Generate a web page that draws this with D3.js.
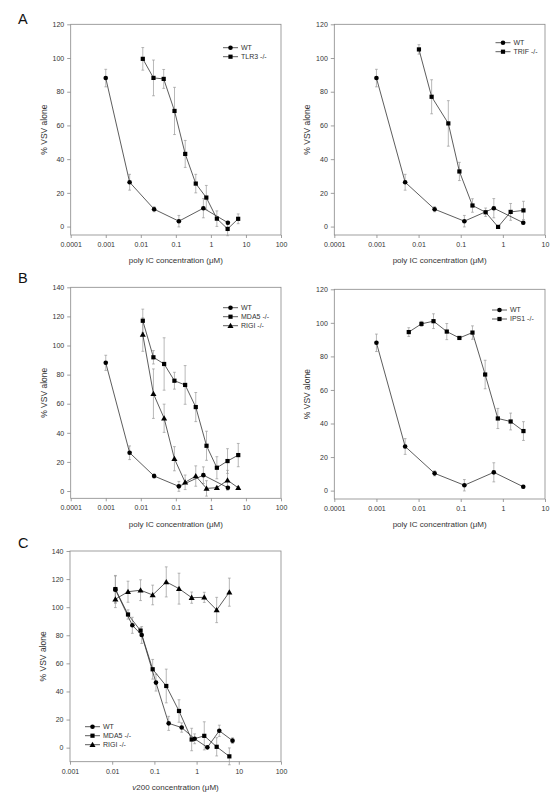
<!DOCTYPE html>
<html>
<head>
<meta charset="utf-8">
<script src="https://cdn.jsdelivr.net/npm/d3@7"></script>
<style>
  body { margin: 0; background: #fff; }
  svg { display: block; font-family: "Liberation Sans", Arial, sans-serif; }
</style>
</head>
<body>
<div id="chart"></div>
<script>
// tick labels
const xTicksPoly = [0.0001, 0.001, 0.01, 0.1, 1, 10, 100];
const xTicksPolyShort = [0.0001, 0.001, 0.01, 0.1, 1, 10];
const xTicksV200 = [0.001, 0.01, 0.1, 1, 10, 100];
const yTicks120 = [0, 20, 40, 60, 80, 100, 120];
const yTicks140 = [0, 20, 40, 60, 80, 100, 120, 140];

// WT (poly IC, shared by panels A and B)
const wtConc = [0.001, 0.0048, 0.024, 0.122, 0.61, 3.05];
const wtVal = [88.1, 26.3, 10.3, 3.2, 10.9, 2.3];
const wtErr = [5.2, 4.7, 1.5, 3.4, 5.7, 0.8];

// A left: TLR3 -/-
const tlr3Conc = [0.0114, 0.023, 0.045, 0.0916, 0.185, 0.37, 0.74, 1.48, 3.0, 6.0];
const tlr3Val = [99.5, 88.2, 87.6, 68.6, 43.1, 25.5, 17.2, 4.7, -1.4, 4.6];
const tlr3Err = [6.7, 10.6, 5.6, 14, 8, 5.5, 7.2, 4.6, 4, 2.9];

// A right: TRIF -/-
const trifConc = [0.0102, 0.0204, 0.0508, 0.093, 0.19, 0.39, 0.77, 1.53, 3.08];
const trifVal = [105.1, 77.0, 61.2, 32.7, 12.5, 8.5, -0.2, 8.7, 9.6];
const trifErr = [2.8, 10.1, 13.5, 5.4, 4, 2.5, 0, 5, 5.4];

// B left: MDA5 -/- and RIGI -/-
const bConc = [0.0114, 0.0229, 0.0463, 0.091, 0.184, 0.37, 0.75, 1.48, 2.98, 6.03];
const mda5Val = [117, 91.9, 87.3, 75.8, 72.9, 57.7, 31.1, 16.0, 20.6, 24.7];
const mda5Err = [8, 4.6, 18, 5.8, 13.3, 10, 10, 7.6, 8.5, 8];
const rigiVal = [107.5, 66.9, 50, 22.2, 6, 10.3, 1.8, 2.3, 7.4, 2.2];
const rigiErr = [11.5, 17, 9.7, 8.3, 5, 7, 5.3, 0.8, 6.8, 0.8];

// B right: IPS1 -/-
const ips1Conc = [0.00585, 0.0117, 0.0226, 0.0467, 0.093, 0.19, 0.38, 0.76, 1.53, 3.08];
const ips1Val = [94.5, 99.4, 101, 94.8, 91, 94.2, 69.2, 43, 41.2, 35.5];
const ips1Err = [2.6, 1.5, 4.4, 4.8, 0.8, 4, 8.5, 6, 5, 5.6];

// C: v200
const wtCConc = [0.0119, 0.03, 0.05, 0.109, 0.218, 0.443, 0.9, 1.8, 3.45, 7.1];
const wtCVal = [112.5, 87.1, 80.2, 46.3, 17.3, 14.3, 6.3, 0.2, 12, 5];
const wtCErr = [9.7, 5.7, 6, 6, 5, 3.3, 3.5, 0.8, 4, 2];
const cConc = [0.0119, 0.0237, 0.047, 0.091, 0.191, 0.383, 0.764, 1.52, 2.99, 5.97];
const mda5CVal = [112.9, 94.8, 83.3, 55.8, 43.9, 26.1, 5.8, 8.4, 0.6, -6.2];
const mda5CErr = [9.7, 3.3, 2, 7, 12, 8, 8, 10, 6.5, 6];
const rigiCVal = [105.7, 111, 112.1, 108.7, 118, 113.2, 106.8, 107, 98, 110.7];
const rigiCErr = [6, 7.5, 7.4, 7, 10.7, 11, 4, 3.6, 9, 10];

const polyTitle = "poly IC concentration (\u03bcM)";

const panels = [
    { letter: "A", lx: 18, ly: 24, x0: 70.7, x1: 281, y0: 24.3, y1: 235,
      xDomain: [1e-4, 100], xTicks: xTicksPoly, yDomain: [-5, 120], yTicks: yTicks120,
      legend: [223, 47.7],
      series: [
          { name: "WT", shape: "circle", x: wtConc, y: wtVal, e: wtErr },
          { name: "TLR3 -/-", shape: "square", x: tlr3Conc, y: tlr3Val, e: tlr3Err }
      ] },
    { x0: 334.3, x1: 545, y0: 24.3, y1: 235,
      xDomain: [1e-4, 10], xTicks: xTicksPolyShort, yDomain: [-5, 120], yTicks: yTicks120,
      legend: [495.5, 42.7],
      series: [
          { name: "WT", shape: "circle", x: wtConc, y: wtVal, e: wtErr },
          { name: "TRIF -/-", shape: "square", x: trifConc, y: trifVal, e: trifErr }
      ] },
    { letter: "B", lx: 18, ly: 283, x0: 70.7, x1: 281, y0: 287.3, y1: 498.3,
      xDomain: [1e-4, 100], xTicks: xTicksPoly, yDomain: [-5, 140], yTicks: yTicks140,
      legend: [223, 307.7],
      series: [
          { name: "WT", shape: "circle", x: wtConc, y: wtVal, e: wtErr },
          { name: "MDA5 -/-", shape: "square", x: bConc, y: mda5Val, e: mda5Err },
          { name: "RIGI -/-", shape: "triangle", x: bConc, y: rigiVal, e: rigiErr }
      ] },
    { x0: 334.3, x1: 545, y0: 289.3, y1: 499,
      xDomain: [1e-4, 10], xTicks: xTicksPolyShort, yDomain: [-5, 120], yTicks: yTicks120,
      legend: [492, 310],
      series: [
          { name: "WT", shape: "circle", x: wtConc, y: wtVal, e: wtErr },
          { name: "IPS1 -/-", shape: "square", x: ips1Conc, y: ips1Val, e: ips1Err }
      ] },
    { letter: "C", lx: 18, ly: 548, x0: 70, x1: 281, y0: 551, y1: 761.7,
      xDomain: [1e-3, 100], xTicks: xTicksV200, yDomain: [-10, 140], yTicks: yTicks140,
      legend: [85, 726.7], xTitleItalic: true,
      series: [
          { name: "WT", shape: "circle", x: wtCConc, y: wtCVal, e: wtCErr },
          { name: "MDA5 -/-", shape: "square", x: cConc, y: mda5CVal, e: mda5CErr },
          { name: "RIGI -/-", shape: "triangle", x: cConc, y: rigiCVal, e: rigiCErr }
      ] }
];

const svg = d3.select("#chart").append("svg")
    .attr("width", 556)
    .attr("height", 800);

svg.append("rect").attr("width", 556).attr("height", 800).attr("fill", "#fff");

// 畫標記
function drawMarker(g, shape, cx, cy) {
    if (shape === "circle") {
        g.append("circle").attr("cx", cx).attr("cy", cy).attr("r", 2.3).attr("fill", "#000");
    } else if (shape === "square") {
        g.append("rect").attr("x", cx - 2.1).attr("y", cy - 2.1)
            .attr("width", 4.2).attr("height", 4.2).attr("fill", "#000");
    } else {
        g.append("path")
            .attr("transform", `translate(${cx},${cy + 0.5})`)
            .attr("d", d3.symbol().type(d3.symbolTriangle).size(16)())
            .attr("fill", "#000");
    }
}

function drawPanel(p) {
    const g = svg.append("g");
    const xScale = d3.scaleLog().domain(p.xDomain).range([p.x0, p.x1]);
    const yScale = d3.scaleLinear().domain(p.yDomain).range([p.y1, p.y0]);

    // X 軸
    const xAxis = g.append("g")
        .attr("transform", `translate(0,${p.y1})`)
        .call(d3.axisBottom(xScale).tickValues(p.xTicks).tickFormat(d => String(d))
            .tickSize(3).tickPadding(4));
    // Y 軸
    const yAxis = g.append("g")
        .attr("transform", `translate(${p.x0},0)`)
        .call(d3.axisLeft(yScale).tickValues(p.yTicks).tickSize(3.5).tickPadding(3));

    [xAxis, yAxis].forEach(ax => {
        ax.select(".domain").remove();
        ax.selectAll("line").attr("stroke", "#777").attr("stroke-width", 0.7);
        ax.selectAll("text").attr("fill", "#333").style("font-size", "7px")
            .style("font-family", "'Liberation Sans', Arial, sans-serif");
    });

    // 外框
    g.append("rect")
        .attr("x", p.x0).attr("y", p.y0)
        .attr("width", p.x1 - p.x0).attr("height", p.y1 - p.y0)
        .attr("fill", "none").attr("stroke", "#888").attr("stroke-width", 0.8);

    // 軸標題
    g.append("text")
        .attr("transform", `translate(${p.x0 - 27},${(p.y0 + p.y1) / 2}) rotate(-90)`)
        .attr("text-anchor", "middle")
        .attr("dy", "0.35em")
        .attr("fill", "#333")
        .style("font-size", "8.5px")
        .text("% VSV alone");

    const xt = g.append("text")
        .attr("x", (p.x0 + p.x1) / 2)
        .attr("y", p.y1 + 25.5)
        .attr("dy", "0.35em")
        .attr("text-anchor", "middle")
        .attr("fill", "#333")
        .style("font-size", "8px");
    if (p.xTitleItalic) {
        xt.append("tspan").style("font-style", "italic").text("v");
        xt.append("tspan").text("200 concentration (\u03bcM)");
    } else {
        xt.text(polyTitle);
    }

    if (p.letter) {
        svg.append("text").attr("x", p.lx).attr("y", p.ly)
            .attr("fill", "#111").style("font-size", "14.5px").text(p.letter);
    }

    // 誤差線
    p.series.forEach(s => {
        s.x.forEach((cx, i) => {
            if (s.e[i] <= 0) return;
            const px = xScale(cx);
            const top = yScale(s.y[i] + s.e[i]);
            const bot = yScale(s.y[i] - s.e[i]);
            const eg = g.append("g").attr("stroke", "#9a9a9a").attr("stroke-width", 0.7);
            eg.append("line").attr("x1", px).attr("x2", px).attr("y1", top).attr("y2", bot);
            eg.append("line").attr("x1", px - 1.4).attr("x2", px + 1.4).attr("y1", top).attr("y2", top);
            eg.append("line").attr("x1", px - 1.4).attr("x2", px + 1.4).attr("y1", bot).attr("y2", bot);
        });
    });

    // 折線
    p.series.forEach(s => {
        g.append("path")
            .datum(s.x.map((cx, i) => [cx, s.y[i]]))
            .attr("fill", "none")
            .attr("stroke", "#333")
            .attr("stroke-width", 0.8)
            .attr("d", d3.line().x(d => xScale(d[0])).y(d => yScale(d[1])));
    });

    // 標記
    p.series.forEach(s => {
        s.x.forEach((cx, i) => drawMarker(g, s.shape, xScale(cx), yScale(s.y[i])));
    });

    // 圖例
    const [lx, ly] = p.legend;
    p.series.forEach((s, i) => {
        const yy = ly + i * 9;
        g.append("line").attr("x1", lx).attr("x2", lx + 15).attr("y1", yy).attr("y2", yy)
            .attr("stroke", "#333").attr("stroke-width", 0.8);
        drawMarker(g, s.shape, lx + 7.5, yy);
        g.append("text").attr("x", lx + 18).attr("y", yy).attr("dy", "0.35em")
            .attr("fill", "#333").style("font-size", "7px").text(s.name);
    });
}

panels.forEach(drawPanel);
</script>
</body>
</html>
